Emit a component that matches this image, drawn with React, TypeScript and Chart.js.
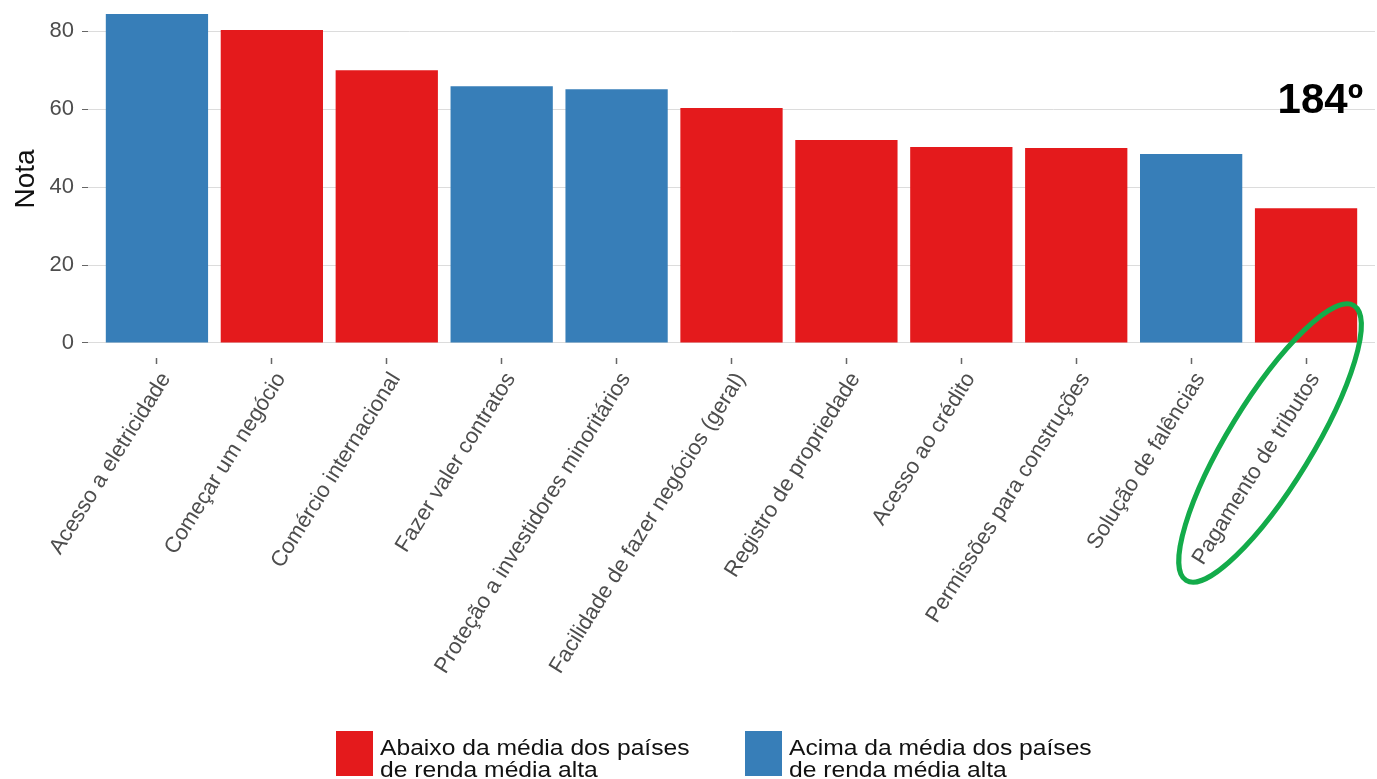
import React, { useEffect, useRef } from "react";
import { Chart, registerables } from "chart.js";

Chart.register(...registerables);

const categories = [
  "Acesso a eletricidade",
  "Começar um negócio",
  "Comércio internacional",
  "Fazer valer contratos",
  "Proteção a investidores minoritários",
  "Facilidade de fazer negócios (geral)",
  "Registro de propriedade",
  "Acesso ao crédito",
  "Permissões para construções",
  "Solução de falências",
  "Pagamento de tributos",
];
const notas = [84.4, 80.3, 70.0, 65.9, 65.1, 60.3, 52.1, 50.3, 50.0, 48.5, 34.6];
const acimaDaMedia = [true, false, false, true, true, false, false, false, false, true, false];
const yTicks = [0, 20, 40, 60, 80];
const legendAbaixo = ["Abaixo da média dos países", "de renda média alta"];
const legendAcima = ["Acima da média dos países", "de renda média alta"];
const annotationText = "184º";
const highlightIndex = 10;

const RED = "#e41a1c";
const BLUE = "#377eb8";

const extrasPlugin = {
  id: "extras",
  afterDraw(chart: any) {
    const { ctx, chartArea, scales } = chart;
    ctx.save();
    // annotation
    ctx.fillStyle = "#000";
    ctx.font = "bold 42px 'Liberation Sans', Arial, sans-serif";
    ctx.textAlign = "right";
    ctx.textBaseline = "alphabetic";
    ctx.fillText(annotationText, chartArea.right - 12, 113);

    // green ellipse around highlighted label
    const tx = scales.x.getPixelForValue(highlightIndex);
    ctx.strokeStyle = "#13ab4a";
    ctx.lineWidth = 5;
    ctx.beginPath();
    ctx.ellipse(tx - 36, chartArea.bottom + 85, 161, 42, (-58.6 * Math.PI) / 180, 0, Math.PI * 2);
    ctx.stroke();

    // legend
    const items = [
      { color: RED, lines: legendAbaixo, x: 336 },
      { color: BLUE, lines: legendAcima, x: 745 },
    ];
    ctx.textAlign = "left";
    ctx.font = "22px 'Liberation Sans', Arial, sans-serif";
    for (const it of items) {
      ctx.fillStyle = it.color;
      ctx.fillRect(it.x, 731, 37, 45);
      ctx.fillStyle = "#111";
      it.lines.forEach((ln: string, i: number) => {
        ctx.save();
        ctx.translate(it.x + 44, 755 + i * 22);
        ctx.scale(1.12, 1);
        ctx.fillText(ln, 0, 0);
        ctx.restore();
      });
    }
    ctx.restore();
  },
};

export default function App() {
  const ref = useRef<HTMLCanvasElement | null>(null);
  useEffect(() => {
    document.body.style.margin = "0";
    const canvas = ref.current!;
    const chart = new Chart(canvas, {
      type: "bar",
      data: {
        datasets: [
          {
            data: notas.map((v, i) => ({ x: i, y: v })),
            backgroundColor: acimaDaMedia.map((a) => (a ? BLUE : RED)),
            barPercentage: 0.89,
            categoryPercentage: 1.0,
          },
        ],
      },
      options: {
        animation: false,
        responsive: false,
        devicePixelRatio: 1,
        layout: { padding: { left: 0, right: 2, top: 0, bottom: 0 } },
        plugins: { legend: { display: false }, tooltip: { enabled: false } },
        scales: {
          x: {
            type: "linear",
            min: -0.6,
            max: 10.6,
            offset: false,
            afterBuildTicks: (s: any) => {
              s.ticks = categories.map((_, i) => ({ value: i }));
            },
            afterFit: (s: any) => {
              s.height = 421;
              s.paddingLeft = 0;
              s.paddingRight = 0;
            },
            grid: { offset: false, drawOnChartArea: false, drawTicks: true, tickLength: 6, tickColor: "#666", tickWidth: 1.5 },
            border: { display: false },
            ticks: {
              autoSkip: false,
              minRotation: 58,
              maxRotation: 58,
              padding: 4,
              labelOffset: 9,
              color: "#4d4d4d",
              font: { family: "'Liberation Sans', Arial, sans-serif", size: 22 },
              callback: (v: any) => categories[v as number] ?? "",
            },
          },
          y: {
            min: -3.85,
            max: 88,
            afterBuildTicks: (s: any) => {
              s.ticks = yTicks.map((v) => ({ value: v }));
            },
            afterFit: (s: any) => {
              s.width = 88;
              s.paddingTop = 0;
              s.paddingBottom = 0;
            },
            grid: { color: "#dcdcdc", lineWidth: 1, tickLength: 6, tickColor: "#666", drawTicks: true },
            border: { display: false },
            ticks: {
              padding: 8,
              color: "#4d4d4d",
              font: { family: "'Liberation Sans', Arial, sans-serif", size: 22 },
            },
            title: {
              display: true,
              text: "Nota",
              color: "#111",
              padding: { top: 9, bottom: 0 },
              font: { family: "'Liberation Sans', Arial, sans-serif", size: 28 },
            },
          },
        },
      },
      plugins: [extrasPlugin],
    });
    return () => chart.destroy();
  }, []);
  return (
    <div style={{ width: 1377, height: 779, background: "#fff" }}>
      <canvas ref={ref} width={1377} height={779} style={{ display: "block" }} />
    </div>
  );
}
